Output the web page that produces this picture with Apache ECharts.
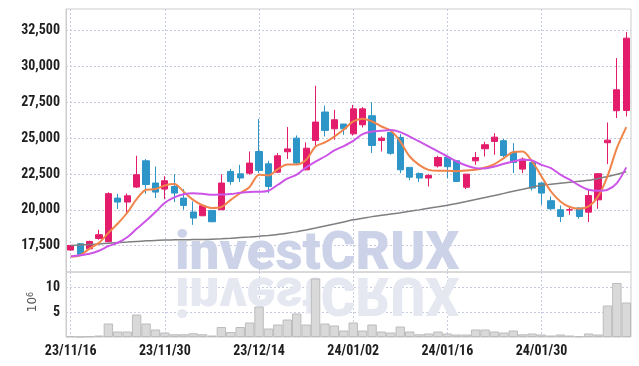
<!DOCTYPE html>
<html>
<head>
<meta charset="utf-8">
<script src="https://cdn.jsdelivr.net/npm/echarts@6/dist/echarts.min.js"></script>
<style>
html,body{margin:0;padding:0;background:#fff;}
#c{width:639px;height:366px;}
</style>
</head>
<body>
<div id="c"></div>
<script>
// ---- data ----
const categories = ['23/11/16','23/11/17','23/11/20','23/11/21','23/11/22','23/11/23','23/11/24','23/11/27','23/11/28','23/11/29',
'23/11/30','23/12/01','23/12/04','23/12/05','23/12/06','23/12/07','23/12/08','23/12/11','23/12/12','23/12/13',
'23/12/14','23/12/15','23/12/18','23/12/19','23/12/20','23/12/21','23/12/22','23/12/26','23/12/27','23/12/28',
'24/01/02','24/01/03','24/01/04','24/01/05','24/01/08','24/01/09','24/01/10','24/01/11','24/01/12','24/01/15',
'24/01/16','24/01/17','24/01/18','24/01/19','24/01/22','24/01/23','24/01/24','24/01/25','24/01/26','24/01/29',
'24/01/30','24/01/31','24/02/01','24/02/02','24/02/05','24/02/06','24/02/07','24/02/08','24/02/13','24/02/14'];
// [open, close, low, high]
const ohlc = [
[17200,17520,17180,17550],[17640,16870,16860,17690],[17290,17800,17250,17850],[18010,18270,17920,18610],[17780,21130,17750,21220],
[20820,20545,20060,21120],[20545,20980,19750,21140],[21590,22450,21520,23770],[23420,21770,21120,23540],[21870,21240,20820,23020],
[21450,22030,20750,22350],[21630,21170,20540,22500],[20820,20310,20010,21450],[19850,19430,18960,20590],[19590,20290,19570,20330],
[19960,19170,19150,19990],[20010,21870,20000,22480],[22680,21980,21750,22840],[22510,22220,21940,23140],[22560,23260,22450,24070],
[24070,22750,22560,26330],[23210,21630,21170,23420],[22630,23770,22560,23960],[24050,24250,23540,25770],[25000,23260,23140,25190],
[22790,24300,22760,24700],[24840,26120,24470,28650],[26820,25540,25120,27270],[25650,26280,24890,26970],[25980,25650,25230,25990],
[25300,27040,25180,27320],[25930,27040,25740,27160],[26560,24490,23960,27510],[24840,25000,24070,25120],[25400,23940,23840,25420],
[25050,22790,22560,25280],[22960,22280,22070,22980],[22540,22220,21940,22600],[22220,22400,21630,22490],[23060,23650,22950,23770],
[23660,23010,22220,23770],[23420,21980,21980,23450],[21580,22490,21450,22500],[23420,23650,23140,24030],[24260,24540,23720,24750],
[24770,25070,23840,25350],[24820,23790,23680,24950],[24000,23300,22560,24650],[22840,23540,22560,23650],[23300,21520,21350,23370],
[21870,21170,20360,21910],[20640,20080,19980,20930],[20010,19540,19150,20310],[19990,20010,19660,20240],[20130,19540,19380,20180],
[19840,21000,19150,21400],[20700,22520,20080,22520],[24680,24860,23190,26090],[26910,28370,26400,30580],[26930,31970,26510,32390]];
const ma5 = [16750,16840,17300,17700,18400,19050,19800,20750,21400,21450,21700,21800,21260,20700,20320,20130,20200,20700,21160,21600,
22450,22400,22840,23160,23160,23490,24420,24700,25110,25600,26160,26350,26160,25810,25510,24760,23720,23140,22790,22720,
22720,22700,22750,22790,22950,23190,23610,24030,24070,23370,22330,21280,20590,20200,20080,20240,20930,22330,24310,25770];
const ma10 = [16755,16840,16940,17150,17470,17710,18090,18680,19240,19850,20500,20870,21090,21160,21120,21050,21070,21100,21190,21250,
21260,21330,21750,22170,22450,22960,23370,23720,24140,24450,24810,25280,25460,25510,25560,25420,25110,24770,24420,24070,
23720,23370,23090,22910,22890,23020,23210,23370,23490,23440,23140,22910,22450,22100,21700,21400,21330,21400,21870,22960];
const maLong = [17510,17550,17590,17630,17680,17730,17760,17800,17840,17870,17900,17910,17920,17930,17940,17950,17980,18020,18070,18110,
18160,18220,18290,18370,18480,18600,18730,18870,19010,19160,19310,19420,19530,19620,19710,19800,19900,20000,20110,20210,
20320,20450,20580,20720,20860,21000,21150,21300,21440,21580,21710,21780,21850,21920,21990,22060,22180,22320,22480,22660];
const volume = [0.15,0.05,0.15,0.3,2.7,1.1,1.1,4.5,2.7,1.5,0.9,0.55,0.55,0.75,0.55,0.3,2.0,1.0,2.0,2.9,
6.1,1.7,2.5,3.5,4.7,2.5,11.7,2.7,2.3,1.3,2.9,1.3,2.5,1.1,0.9,2.1,1.1,0.55,0.7,1.1,
0.7,0.5,0.5,1.5,1.5,1.1,0.9,1.3,0.55,0.7,0.5,0.3,0.5,0.3,0.15,0.7,0.5,6.3,10.8,6.9];
const priceTicks = [17500,20000,22500,25000,27500,30000,32500];
const volumeTicks = [5,10];
const volumeUnit = '{a|10}{b|6}';
const watermarkText = 'investCRUX';

// ---- chart ----
const chart = echarts.init(document.getElementById('c'), null, {renderer:'canvas'});
const labelFont = {color:'#1e1e1e', fontFamily:'"Liberation Sans Narrow","Roboto Condensed","Noto Sans Condensed","Open Sans Condensed","DejaVu Sans Condensed",sans-serif', fontWeight:'bold', fontSize:14};
const gridDot = {show:true, lineStyle:{color:'#c6cbe0', type:[2,2], width:1}};
chart.setOption({
  animation:false,
  grid:[
    {left:66, width:565, top:9, height:263, show:true, borderColor:'#cccccc', borderWidth:1},
    {left:66, width:565, top:272, height:65, show:true, borderColor:'#cccccc', borderWidth:1}
  ],
  xAxis:[
    {type:'category', gridIndex:0, data:categories, boundaryGap:true,
     axisLine:{show:false}, axisTick:{show:false, interval:9, alignWithLabel:true}, axisLabel:{show:false, interval:9},
     splitLine:Object.assign({interval:9, alignWithLabel:true}, gridDot)},
    {type:'category', gridIndex:1, data:categories, boundaryGap:true,
     axisLine:{show:false}, axisTick:{show:false, interval:9, alignWithLabel:true},
     axisLabel:Object.assign({interval:9, margin:7}, labelFont),
     splitLine:Object.assign({interval:9, alignWithLabel:true}, gridDot)}
  ],
  yAxis:[
    {type:'value', gridIndex:0, min:15670, max:34000, scale:true,
     axisLine:{show:true, lineStyle:{color:'#cccccc'}},
     axisTick:{show:false, customValues:priceTicks},
     axisLabel:Object.assign({customValues:priceTicks, margin:6, showMinLabel:true, showMaxLabel:true, hideOverlap:false, formatter:v=>Number(v).toLocaleString('en-US')}, labelFont),
     splitLine:gridDot},
    {type:'value', gridIndex:1, min:0, max:13,
     axisLine:{show:true, lineStyle:{color:'#cccccc'}},
     axisTick:{show:false, customValues:volumeTicks},
     axisLabel:Object.assign({customValues:volumeTicks, margin:6, showMinLabel:true, showMaxLabel:true, hideOverlap:false}, labelFont),
     splitLine:gridDot}
  ],
  graphic:{elements:[
    {type:'text', z:1, x:175, y:256, silent:true,
     style:{text:watermarkText, font:'900 53px Roboto', fill:'#ccd2e8', align:'left', verticalAlign:'middle', textAlign:'left', textVerticalAlign:'middle'}},
    {type:'text', z:1, x:175, y:291, scaleY:-1, silent:true,
     style:{text:watermarkText, font:'900 53px Roboto', fill:'#e6e8f1', align:'left', verticalAlign:'middle', textAlign:'left', textVerticalAlign:'middle'}},
    {type:'text', z:5, x:33, y:302, rotation:Math.PI/2, silent:true,
     style:{text:volumeUnit, fill:'#555', align:'center', verticalAlign:'middle', textAlign:'center', textVerticalAlign:'middle',
       rich:{a:{fontSize:12, fill:'#555', fontFamily:'DejaVu Sans'}, b:{fontSize:8, fill:'#555', fontFamily:'DejaVu Sans', verticalAlign:'top'}}}}
  ]},
  series:[
    {type:'candlestick', xAxisIndex:0, yAxisIndex:0, data:ohlc, barWidth:'70%',
     itemStyle:{color:'#e31d6b', color0:'#2d95c7', borderColor:'#e31d6b', borderColor0:'#2d95c7', borderWidth:1}},
    {type:'line', xAxisIndex:0, yAxisIndex:0, data:maLong, showSymbol:false, smooth:0.3, lineStyle:{color:'#7f7f7f', width:1.5}},
    {type:'line', xAxisIndex:0, yAxisIndex:0, data:ma5, showSymbol:false, smooth:0.3, lineStyle:{color:'#f0844a', width:2}},
    {type:'line', xAxisIndex:0, yAxisIndex:0, data:ma10, showSymbol:false, smooth:0.3, lineStyle:{color:'#cc55e8', width:2}},
    {type:'bar', xAxisIndex:1, yAxisIndex:1, data:volume, barWidth:'100%',
     itemStyle:{color:'#d9d9d9', borderColor:'#bcbcbc', borderWidth:1}}
  ]
});
</script>
</body>
</html>
